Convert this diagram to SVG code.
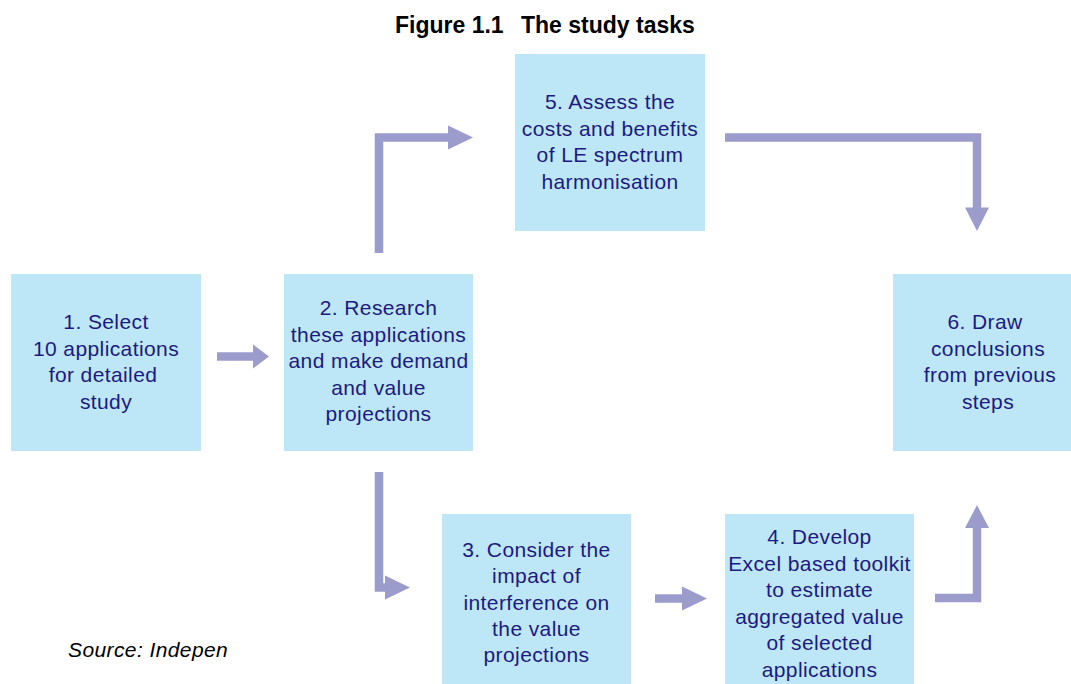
<svg xmlns="http://www.w3.org/2000/svg" width="1071" height="684" viewBox="0 0 1071 684">
<style>
.box{fill:#BDE6F6;}
.lbl{font-family:"Liberation Sans",Arial,sans-serif;font-size:21px;letter-spacing:0.4px;fill:#1C1A80;text-anchor:middle;}
.title{font-family:"Liberation Sans",Arial,sans-serif;font-size:23px;font-weight:bold;fill:#000;}
.src{font-family:"Liberation Sans",Arial,sans-serif;font-size:21px;font-style:italic;letter-spacing:0.4px;fill:#000;}
.ln{fill:none;stroke:#9C9CCC;stroke-width:8.5;stroke-linejoin:miter;}
.hd{fill:#9C9CCC;}
</style>
<rect width="1071" height="684" fill="#fff"/>
<text class="title" x="395" y="33">Figure 1.1</text>
<text class="title" x="521" y="33">The study tasks</text>
<g id="node1">
<rect class="box" x="11" y="274" width="190" height="177"/>
<text class="lbl"><tspan x="106" y="329">1. Select</tspan><tspan x="106" y="355.5">10 applications</tspan><tspan x="103" y="382">for detailed</tspan><tspan x="106" y="408.5">study</tspan></text>
</g>
<g id="node2">
<rect class="box" x="284" y="274" width="189" height="177"/>
<text class="lbl"><tspan x="378.5" y="315">2. Research</tspan><tspan x="378.5" y="341.5">these applications</tspan><tspan x="378.5" y="368">and make demand</tspan><tspan x="378.5" y="394.5">and value</tspan><tspan x="378.5" y="421">projections</tspan></text>
</g>
<g id="node5">
<rect class="box" x="515" y="54" width="190" height="177"/>
<text class="lbl"><tspan x="610" y="109">5. Assess the</tspan><tspan x="610" y="135.5">costs and benefits</tspan><tspan x="610" y="162">of LE spectrum</tspan><tspan x="610" y="188.5">harmonisation</tspan></text>
</g>
<g id="node6">
<rect class="box" x="893" y="274" width="190" height="177"/>
<text class="lbl"><tspan x="985" y="329">6. Draw</tspan><tspan x="988" y="355.5">conclusions</tspan><tspan x="990" y="382">from previous</tspan><tspan x="988" y="408.5">steps</tspan></text>
</g>
<g id="node3">
<rect class="box" x="442" y="514" width="189" height="170"/>
<text class="lbl"><tspan x="536.5" y="556.7">3. Consider the</tspan><tspan x="536.5" y="583.1">impact of</tspan><tspan x="536.5" y="609.5">interference on</tspan><tspan x="536.5" y="635.9">the value</tspan><tspan x="536.5" y="662.3">projections</tspan></text>
</g>
<g id="node4">
<rect class="box" x="725" y="514" width="189" height="170"/>
<text class="lbl"><tspan x="819.5" y="544">4. Develop</tspan><tspan x="819.5" y="570.5">Excel based toolkit</tspan><tspan x="819.5" y="597">to estimate</tspan><tspan x="819.5" y="623.5">aggregated value</tspan><tspan x="819.5" y="650">of selected</tspan><tspan x="819.5" y="676.5">applications</tspan></text>
</g>
<g id="connectors">
<path class="ln" d="M217,356.5 H254"/>
<polygon class="hd" points="253,344.5 269,356.5 253,368.5"/>
<path class="ln" d="M379,253 V137.5 H449"/>
<polygon class="hd" points="448,125.5 473,137.5 448,149.5"/>
<path class="ln" d="M379,472 V587.5 H386"/>
<polygon class="hd" points="385,575.5 410,587.5 385,599.5"/>
<path class="ln" d="M655,598.5 H683"/>
<polygon class="hd" points="682,586.5 707,598.5 682,610.5"/>
<path class="ln" d="M725,137.5 H977 V208.5"/>
<polygon class="hd" points="965,207.5 977,231 989,207.5"/>
<path class="ln" d="M935,598 H977 V527"/>
<polygon class="hd" points="965,528 977,505 989,528"/>
</g>
<text class="src" x="68" y="657">Source: Indepen</text>
</svg>
